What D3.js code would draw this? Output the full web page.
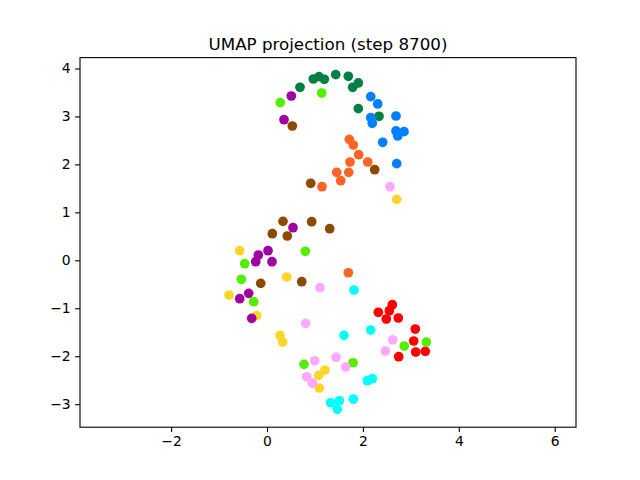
<!DOCTYPE html>
<html><head><meta charset="utf-8">
<script src="https://cdn.jsdelivr.net/npm/d3@7"></script>
<style>body{margin:0;background:#fff}svg{display:block}text{font-family:"DejaVu Sans",sans-serif}</style>
</head><body><svg id="c" width="640" height="480"></svg>
<script>
const title = "UMAP projection (step 8700)";
const xTicks = [-2, 0, 2, 4, 6];
const yTicks = [-3, -2, -1, 0, 1, 2, 3, 4];
const classColors = ["#ff0000","#ff6326","#ffd42a","#55ee00","#008044","#00ffff","#0080ff","#a000a0","#ffa8ff","#8b4a00"];
const red = [[2.613,-0.926],[2.551,-1.051],[2.321,-1.084],[2.488,-1.224],[2.738,-1.203],[3.093,-1.433],[3.059,-1.683],[3.101,-1.912],[3.301,-1.898],[2.747,-2.010]];
const orange = [[1.716,2.523],[1.800,2.405],[1.912,2.202],[1.731,2.050],[2.100,2.050],[1.454,1.835],[1.704,1.835],[1.537,1.660],[1.147,1.535],[1.696,-0.259]];
const yellow = [[2.705,1.272],[-0.569,0.200],[0.411,-0.348],[-0.792,-0.724],[-0.215,-1.155],[0.271,-1.564],[0.327,-1.704],[1.210,-2.288],[1.078,-2.398],[1.091,-2.663]];
const lime = [[0.277,3.287],[1.141,3.489],[0.799,0.188],[-0.465,-0.071],[-0.536,-0.396],[-0.277,-0.863],[2.863,-1.787],[3.322,-1.704],[1.794,-2.136],[0.772,-2.169]];
const darkGreen = [[0.688,3.608],[0.966,3.781],[1.084,3.829],[1.195,3.775],[1.433,3.871],[1.696,3.837],[1.904,3.698],[1.787,3.608],[1.904,3.162],[2.336,3.003]];
const cyan = [[1.814,-0.619],[2.163,-1.454],[1.606,-1.564],[2.092,-2.511],[2.196,-2.469],[1.328,-2.970],[1.508,-2.928],[1.466,-3.107],[1.800,-2.893]];
const blue = [[2.163,3.412],[2.309,3.260],[2.163,2.974],[2.196,2.857],[2.690,3.009],[2.690,2.697],[2.857,2.682],[2.726,2.592],[2.413,2.461],[2.705,2.015]];
const purple = [[0.507,3.426],[0.355,2.932],[0.542,0.680],[0.021,0.200],[-0.181,0.111],[-0.236,-0.029],[0.104,-0.029],[-0.382,-0.688],[-0.569,-0.801],[-0.319,-1.210]];
const pink = [[2.565,1.535],[1.105,-0.571],[0.807,-1.314],[2.621,-1.656],[2.467,-1.892],[1.439,-2.023],[1.641,-2.225],[0.995,-2.094],[0.828,-2.428],[0.945,-2.559]];
const brown = [[0.528,2.801],[2.246,1.889],[0.911,1.606],[0.334,0.813],[0.932,0.805],[1.308,0.659],[0.111,0.555],[0.423,0.507],[-0.131,-0.480],[0.724,-0.446]];
const groups = [red, orange, yellow, lime, darkGreen, cyan, blue, purple, pink, brown];

const L = 80, R = 576, T = 57.6, B = 427.2;
const x = d3.scaleLinear().domain([-3.90, 6.444]).range([L, R]);
const y = d3.scaleLinear().domain([-3.48, 4.227]).range([B, T]);
const svg = d3.select("#c");
svg.append("rect").attr("width",640).attr("height",480).attr("fill","#fff");

const pts = [];
groups.forEach((g, i) => g.forEach(p => pts.push({x:p[0], y:p[1], c:classColors[i]})));
svg.append("g").selectAll("circle").data(pts).join("circle")
  .attr("cx", d => x(d.x)).attr("cy", d => y(d.y)).attr("r", 4.85)
  .attr("fill", d => d.c);

const xa = svg.append("g").attr("transform", `translate(0,${B})`)
  .call(d3.axisBottom(x).tickValues(xTicks).tickSize(4.9).tickPadding(4.5).tickFormat(d => d < 0 ? "\u2212" + Math.abs(d) : d));
const ya = svg.append("g").attr("transform", `translate(${L},0)`)
  .call(d3.axisLeft(y).tickValues(yTicks).tickSize(4.9).tickPadding(4.5).tickFormat(d => d < 0 ? "\u2212" + Math.abs(d) : d));
[xa, ya].forEach(a => {
  a.select(".domain").remove();
  a.selectAll("line").attr("stroke","#000").attr("stroke-width",1.1);
  a.selectAll("text").attr("font-size","13.9px").attr("fill","#000").attr("font-family","DejaVu Sans");
});
svg.append("rect").attr("x",L).attr("y",T).attr("width",R-L).attr("height",B-T)
  .attr("fill","none").attr("stroke","#000").attr("stroke-width",1.1);
svg.append("text").attr("x",(L+R)/2).attr("y",50).attr("text-anchor","middle")
  .attr("font-size","16.7px").attr("fill","#000").text(title);
</script></body></html>
